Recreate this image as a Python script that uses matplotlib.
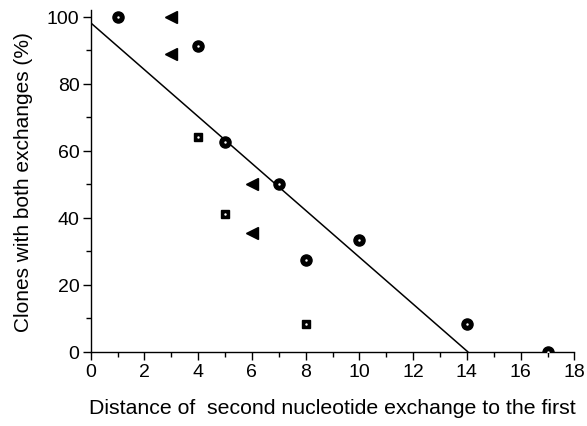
import matplotlib
matplotlib.use("Agg")
import matplotlib.pyplot as plt
from matplotlib.ticker import MultipleLocator

plt.rcParams["font.family"] = ["Liberation Sans", "DejaVu Sans"]

# circles
circ_x = [1, 4, 5, 7, 8, 10, 14, 17]
circ_y = [100, 91.3, 62.5, 50, 27.4, 33.3, 8.4, 0]
# squares
sq_x = [4, 5, 8]
sq_y = [64.2, 41.2, 8.4]
# left triangles
tri_x = [3, 3, 6, 6]
tri_y = [100, 89, 50, 35.3]
# regression line
fit_x = [0, 14.03]
fit_y = [98.2, 0]

fig = plt.figure(figsize=(5.87, 4.27), dpi=100)
ax = fig.add_axes([0.1545, 0.174, 0.824, 0.80])

ax.plot(fit_x, fit_y, color="black", lw=1.1, zorder=2)
ax.plot(circ_x, circ_y, "o", color="black", ms=8, zorder=3)
ax.plot(sq_x, sq_y, "s", color="black", ms=6, zorder=3)
ax.plot(tri_x, tri_y, "<", color="black", ms=8, zorder=3)
# little white dots in the marker centres
ax.plot(circ_x + sq_x, circ_y + sq_y, ".", color="white", ms=1.5, zorder=4)

ax.set_xlim(0, 18)
ax.set_ylim(0, 102)
ax.xaxis.set_major_locator(MultipleLocator(2))
ax.xaxis.set_minor_locator(MultipleLocator(1))
ax.yaxis.set_major_locator(MultipleLocator(20))
ax.yaxis.set_minor_locator(MultipleLocator(10))
ax.tick_params(which="major", direction="out", length=6, width=1, labelsize=14,
               colors="black", pad=2)
ax.tick_params(which="minor", direction="out", length=3.5, width=1)
for s in ["top", "right"]:
    ax.spines[s].set_visible(False)
for s in ["left", "bottom"]:
    ax.spines[s].set_linewidth(1)

ax.set_xlabel("Distance of  second nucleotide exchange to the first", fontsize=15.3, labelpad=13)
ax.set_ylabel("Clones with both exchanges (%)", fontsize=15, labelpad=10)

fig.savefig("out.png", dpi=100)
